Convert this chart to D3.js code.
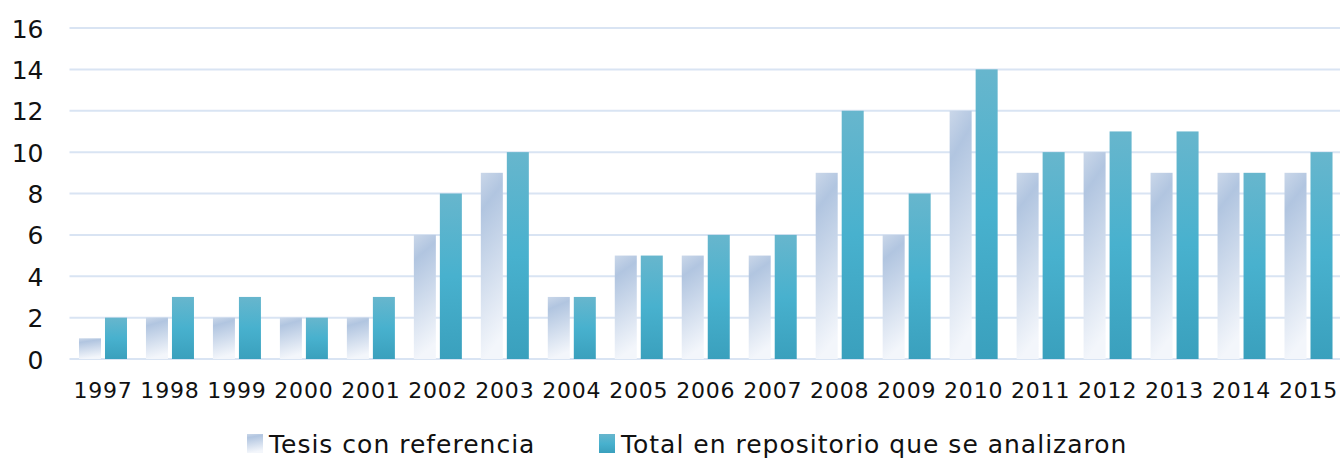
<!DOCTYPE html>
<html>
<head>
<meta charset="utf-8">
<script src="https://cdn.jsdelivr.net/npm/d3@7"></script>
<style>
  body { margin: 0; background: #fff; }
  text { font-family: "DejaVu Sans", Verdana, sans-serif; fill: #111; }
</style>
</head>
<body>
<div id="chart"></div>
<script>
  // data
  const years = ["1997","1998","1999","2000","2001","2002","2003","2004","2005","2006",
                 "2007","2008","2009","2010","2011","2012","2013","2014","2015"];
  const tesisRef = [1,2,2,2,2,6,9,3,5,5,5,9,6,12,9,10,9,9,9];
  const totalRepo = [2,3,3,2,3,8,10,3,5,6,6,12,8,14,10,11,11,9,10];
  const seriesNames = ["Tesis con referencia", "Total en repositorio que se analizaron"];
  const yTicks = [0,2,4,6,8,10,12,14,16];

  const W = 1340, H = 458;
  const margin = {top: 28, right: 0, bottom: 99, left: 69.5};

  const svg = d3.select("#chart").append("svg")
      .attr("width", W).attr("height", H);

  const defs = svg.append("defs");
  const g1 = defs.append("linearGradient").attr("id", "gLight")
      .attr("x1", 0).attr("y1", 0).attr("x2", 0.15).attr("y2", 1);
  g1.append("stop").attr("offset", "0%").attr("stop-color", "#cad7e9");
  g1.append("stop").attr("offset", "20%").attr("stop-color", "#b1c5e0");
  g1.append("stop").attr("offset", "100%").attr("stop-color", "#f3f6fb");
  const g2 = defs.append("linearGradient").attr("id", "gTeal")
      .attr("x1", 0).attr("y1", 0).attr("x2", 0).attr("y2", 1);
  g2.append("stop").attr("offset", "0%").attr("stop-color", "#67b6cd");
  g2.append("stop").attr("offset", "50%").attr("stop-color", "#48b1ce");
  g2.append("stop").attr("offset", "100%").attr("stop-color", "#3aa0bd");

  const x = d3.scaleBand()
      .domain(years)
      .range([margin.left, W - margin.right + 2])
      .paddingInner(0).paddingOuter(0);

  const y = d3.scaleLinear()
      .domain([0, 16])
      .range([H - margin.bottom, margin.top]);

  // gridlines
  svg.append("g")
    .selectAll("line")
    .data(yTicks)
    .join("line")
      .attr("x1", margin.left).attr("x2", W)
      .attr("y1", d => y(d)).attr("y2", d => y(d))
      .attr("stroke", "#d9e4f3").attr("stroke-width", 2);

  // y axis labels
  const yAxis = svg.append("g")
      .attr("transform", `translate(${margin.left - 26}, 0)`)
      .call(d3.axisLeft(y).tickValues(yTicks).tickSize(0).tickPadding(0));
  yAxis.select(".domain").remove();
  yAxis.selectAll("text")
      .style("font-size", "25px")
      .attr("dy", "0.36em");

  // x axis labels
  const xAxis = svg.append("g")
      .attr("transform", `translate(0, ${y(0)})`)
      .call(d3.axisBottom(x).tickSize(0).tickPadding(0));
  xAxis.select(".domain").remove();
  xAxis.selectAll("text")
      .attr("y", 39).attr("dy", 0)
      .style("font-size", "22px")
      .style("letter-spacing", "0.8px");

  const barW = 22, gap = 4;
  const off = (x.bandwidth() - (2 * barW + gap)) / 2;

  svg.append("g").selectAll("rect")
    .data(tesisRef)
    .join("rect")
      .attr("x", (d, i) => x(years[i]) + off)
      .attr("y", d => y(d))
      .attr("width", barW)
      .attr("height", d => y(0) - y(d))
      .attr("fill", "url(#gLight)");

  svg.append("g").selectAll("rect")
    .data(totalRepo)
    .join("rect")
      .attr("x", (d, i) => x(years[i]) + off + barW + gap)
      .attr("y", d => y(d))
      .attr("width", barW)
      .attr("height", d => y(0) - y(d))
      .attr("fill", "url(#gTeal)");

  // legend
  const legend = svg.append("g");
  const legX = [247, 599];
  const fills = ["url(#gLight)", "url(#gTeal)"];
  seriesNames.forEach((name, i) => {
    legend.append("rect")
      .attr("x", legX[i]).attr("y", 434)
      .attr("width", 16).attr("height", 19)
      .attr("fill", fills[i]);
    legend.append("text")
      .attr("x", legX[i] + 22).attr("y", 453)
      .style("font-size", "25px")
      .style("letter-spacing", "1px")
      .text(name);
  });
</script>
</body>
</html>
